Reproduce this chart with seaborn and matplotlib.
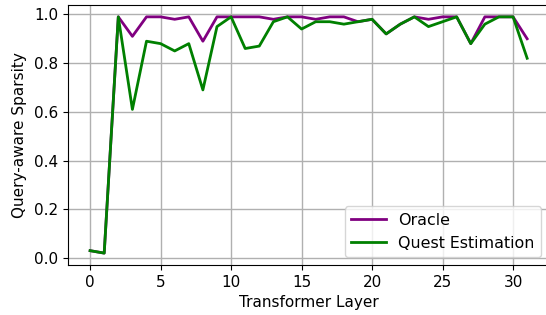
import numpy as np
import pandas as pd
import seaborn as sns
from matplotlib import pyplot as plt

layers = list(range(32))
oracle = [0.03, 0.02, 0.99, 0.91, 0.99, 0.99, 0.98, 0.99, 0.89, 0.99,
          0.99, 0.99, 0.99, 0.98, 0.99, 0.99, 0.98, 0.99, 0.99, 0.97,
          0.98, 0.92, 0.96, 0.99, 0.98, 0.99, 0.99, 0.88, 0.99, 0.99,
          0.99, 0.90]
quest = [0.03, 0.02, 0.99, 0.61, 0.89, 0.88, 0.85, 0.88, 0.69, 0.95,
         0.99, 0.86, 0.87, 0.97, 0.99, 0.94, 0.97, 0.97, 0.96, 0.97,
         0.98, 0.92, 0.96, 0.99, 0.95, 0.97, 0.99, 0.88, 0.96, 0.99,
         0.99, 0.82]

data = pd.DataFrame({
    'layer': layers * 2,
    'sparsity': oracle + quest,
    'method': ['Oracle'] * 32 + ['Quest Estimation'] * 32,
})

plt.rcParams['font.size'] = 11

fig, ax = plt.subplots(figsize=(5.46, 3.15), dpi=100)
sns.lineplot(data=data, x='layer', y='sparsity', hue='method',
             palette=['purple', 'green'], linewidth=2, ax=ax)
ax.grid(True, color='#b0b0b0', linewidth=1)
ax.set_axisbelow(True)
ax.set_xlabel('Transformer Layer')
ax.set_ylabel('Query-aware Sparsity', labelpad=5)
ax.legend(title=None, loc='lower right', fontsize=11.4, handlelength=2.2)
# right edge sits just past the image border, as in the reference
fig.subplots_adjust(left=0.125, right=1.0055, top=0.984, bottom=0.159)
fig.savefig('out.png')
